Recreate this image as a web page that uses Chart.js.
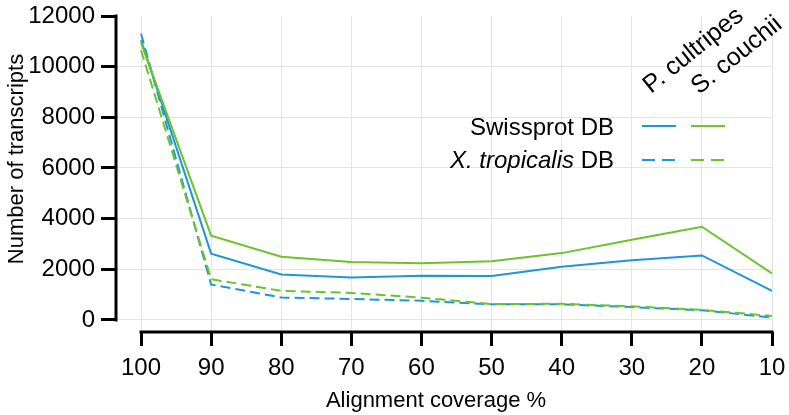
<!DOCTYPE html>
<html lang="en">
  <head>
    <meta charset="UTF-8" />
    <title>Transcripts by alignment coverage</title>
    <script src="https://cdn.jsdelivr.net/npm/chart.js"></script>
    <style>
      html,
      body {
        margin: 0;
        background: #fff;
      }
      .chart-box {
        width: 789px;
        height: 415px;
      }
    </style>
  </head>
  <body>
    <div class="chart-box">
      <canvas id="coverageChart"></canvas>
    </div>

    <script>
      // Data
      const coverage = [100, 90, 80, 70, 60, 50, 40, 30, 20, 10];
      const yTicks = [0, 2000, 4000, 6000, 8000, 10000, 12000];

      const pcSwissprot = [11050, 2620, 1800, 1680, 1750, 1740, 2100, 2360, 2550, 1150];
      const scSwissprot = [10950, 3330, 2500, 2290, 2240, 2320, 2640, 3170, 3680, 1840];
      const pcXtrop = [11300, 1400, 890, 830, 760, 620, 620, 510, 380, 100];
      const scXtrop = [10650, 1610, 1150, 1070, 880, 630, 640, 540, 400, 160];

      const BLUE = "#1f97d4";
      const GREEN = "#6cc32a";
      const FONT = "'Liberation Sans', Arial, Helvetica, sans-serif";

      const toPoints = (vals) => vals.map((v, i) => ({ x: coverage[i], y: v }));

      function series(label, vals, color, dashed) {
        return {
          label,
          data: toPoints(vals),
          borderColor: color,
          borderWidth: 2,
          borderDash: dashed ? [10, 5] : [],
          pointRadius: 0,
          tension: 0,
          fill: false,
        };
      }

      // axis lines, legend and titles
      const decor = {
        id: "decor",
        afterDraw(chart) {
          const { ctx, chartArea } = chart;
          const x = chart.scales.x;
          const y = chart.scales.y;
          ctx.save();

          ctx.strokeStyle = "#000";
          ctx.lineWidth = 3;
          ctx.beginPath();
          ctx.moveTo(chartArea.left, y.getPixelForValue(12000) - 1.5);
          ctx.lineTo(chartArea.left, y.getPixelForValue(0) + 1.5);
          ctx.stroke();
          ctx.beginPath();
          ctx.moveTo(x.getPixelForValue(100) - 1.5, chartArea.bottom);
          ctx.lineTo(x.getPixelForValue(10) + 1.5, chartArea.bottom);
          ctx.stroke();

          ctx.fillStyle = "#000";
          ctx.textBaseline = "alphabetic";

          // axis titles
          ctx.font = "22px " + FONT;
          ctx.textAlign = "center";
          ctx.fillText("Alignment coverage %", 436, 407);
          ctx.save();
          ctx.translate(23, 159);
          ctx.rotate(-Math.PI / 2);
          ctx.fillText("Number of transcripts", 0, 0);
          ctx.restore();

          // legend rows
          ctx.textAlign = "right";
          ctx.font = "24px " + FONT;
          ctx.fillText("Swissprot DB", 614, 135);
          const dbW = ctx.measureText(" DB").width;
          ctx.fillText(" DB", 614, 168);
          ctx.font = "italic 24px " + FONT;
          ctx.fillText("X. tropicalis", 614 - dbW, 168);

          ctx.lineWidth = 2;
          const rows = [
            { yy: 126, dash: [] },
            { yy: 160, dash: [13, 7] },
          ];
          rows.forEach((r) => {
            ctx.setLineDash(r.dash);
            ctx.strokeStyle = BLUE;
            ctx.beginPath();
            ctx.moveTo(642, r.yy);
            ctx.lineTo(676, r.yy);
            ctx.stroke();
            ctx.strokeStyle = GREEN;
            ctx.beginPath();
            ctx.moveTo(691, r.yy);
            ctx.lineTo(725, r.yy);
            ctx.stroke();
          });
          ctx.setLineDash([]);

          // species headers
          ctx.textAlign = "left";
          ctx.font = "25px " + FONT;
          [
            { text: "P. cultripes", px: 651, py: 94 },
            { text: "S. couchii", px: 699, py: 95 },
          ].forEach((h) => {
            ctx.save();
            ctx.translate(h.px, h.py);
            ctx.rotate((-39 * Math.PI) / 180);
            ctx.fillText(h.text, 0, 0);
            ctx.restore();
          });

          ctx.restore();
        },
      };

      new Chart(document.getElementById("coverageChart"), {
        type: "line",
        data: {
          datasets: [
            series("S. couchii Swissprot DB", scSwissprot, GREEN, false),
            series("P. cultripes Swissprot DB", pcSwissprot, BLUE, false),
            series("S. couchii X. tropicalis DB", scXtrop, GREEN, true),
            series("P. cultripes X. tropicalis DB", pcXtrop, BLUE, true),
          ],
        },
        options: {
          responsive: true,
          maintainAspectRatio: false,
          animation: false,
          layout: { padding: { top: 16, right: 17, left: 0, bottom: 0 } },
          plugins: {
            legend: { display: false },
            tooltip: { enabled: false },
          },
          scales: {
            x: {
              type: "linear",
              reverse: true,
              min: 10,
              max: 103.57,
              afterBuildTicks: (s) => {
                s.ticks = coverage.map((v) => ({ value: v }));
              },
              afterFit: (s) => {
                s.height = 83;
                s.paddingLeft = 0;
                s.paddingRight = 0;
              },
              border: { display: false },
              grid: {
                color: "#e4e4e4",
                lineWidth: 1,
                tickColor: "#000",
                tickWidth: 3,
                tickLength: 14,
              },
              ticks: {
                color: "#000",
                padding: 8,
                maxRotation: 0,
                font: { family: FONT, size: 24 },
              },
            },
            y: {
              min: -474,
              max: 12000,
              afterBuildTicks: (s) => {
                s.ticks = yTicks.map((v) => ({ value: v }));
              },
              afterFit: (s) => {
                s.width = 116;
                s.paddingTop = 0;
                s.paddingBottom = 0;
              },
              border: { display: false },
              grid: {
                color: (c) => (c.tick && c.tick.value === 12000 ? "rgba(0,0,0,0)" : "#e4e4e4"),
                lineWidth: 1,
                tickColor: "#000",
                tickWidth: 3,
                tickLength: 15,
              },
              ticks: {
                color: "#000",
                padding: 6,
                callback: (v) => String(v),
                font: { family: FONT, size: 24 },
              },
            },
          },
        },
        plugins: [decor],
      });
    </script>
  </body>
</html>
